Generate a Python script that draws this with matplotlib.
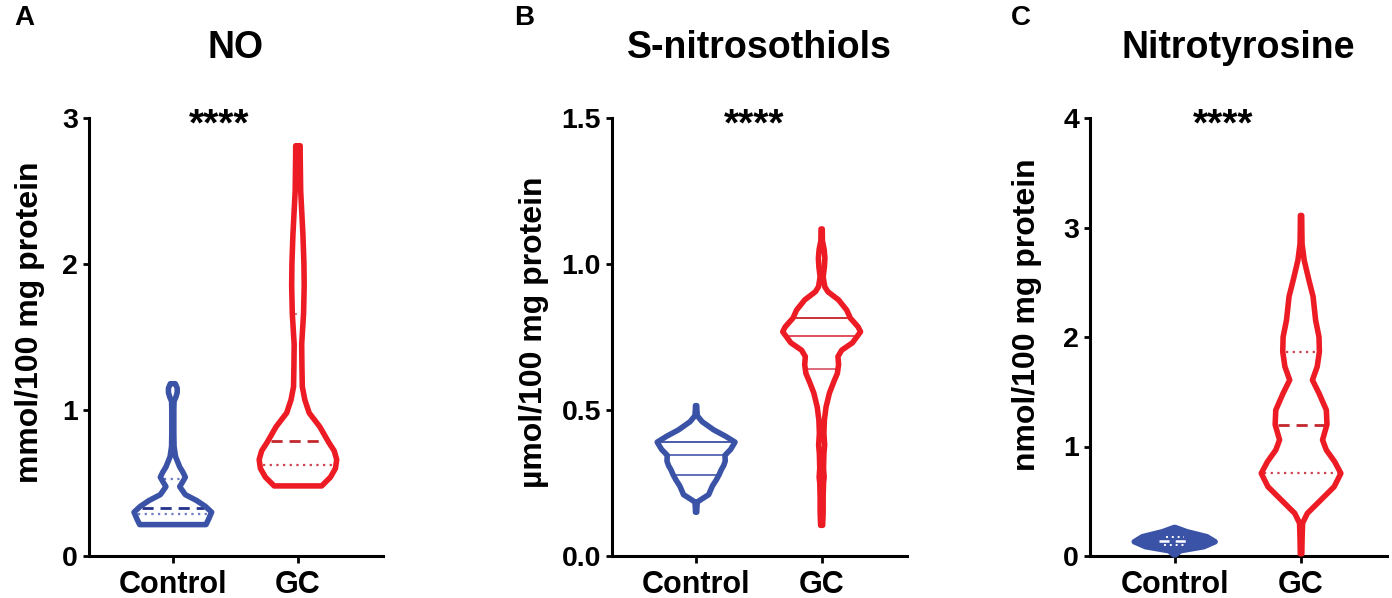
import numpy as np
import matplotlib
matplotlib.use("Agg")
import matplotlib.pyplot as plt
from matplotlib.patches import Polygon

plt.rcParams['font.family'] = ['Liberation Sans', 'DejaVu Sans']
plt.rcParams['font.weight'] = 'bold'

groups = ["Control", "GC"]
blue = "#3b53a6"
red = "#ed1c24"

# violin outlines: y values and half widths (x units)
# panel A - NO
no_ctrl_y = [0.215, 0.25, 0.30, 0.34, 0.38, 0.42, 0.475, 0.51, 0.54, 0.575, 0.61,
             0.68, 0.75, 0.85, 1.0, 1.06, 1.09, 1.12, 1.15, 1.18]
no_ctrl_hw = [0.265, 0.285, 0.31, 0.26, 0.19, 0.10, 0.055, 0.08, 0.10, 0.08, 0.055,
              0.022, 0.01, 0.008, 0.008, 0.01, 0.025, 0.035, 0.035, 0.02]
no_gc_y = [0.48, 0.54, 0.60, 0.66, 0.72, 0.78, 0.885, 0.98, 1.07, 1.16, 1.3, 1.45,
           1.66, 1.85, 2.0, 2.2, 2.5, 2.75, 2.81]
no_gc_hw = [0.19, 0.26, 0.30, 0.31, 0.29, 0.245, 0.175, 0.09, 0.055, 0.035, 0.032, 0.03,
            0.045, 0.05, 0.048, 0.04, 0.022, 0.018, 0.018]
no_ctrl_q = [0.285, 0.33, 0.53]
no_gc_q = [0.62, 0.785, 1.66]

# panel B - S-nitrosothiols
sno_ctrl_y = [0.15, 0.165, 0.185, 0.195, 0.21, 0.225, 0.24, 0.26, 0.28, 0.295, 0.31,
              0.325, 0.345, 0.365, 0.39, 0.41, 0.432, 0.46, 0.48, 0.50, 0.515]
sno_ctrl_hw = [0.005, 0.006, 0.01, 0.045, 0.1, 0.115, 0.13, 0.16, 0.185, 0.2, 0.22,
               0.232, 0.23, 0.275, 0.31, 0.235, 0.14, 0.048, 0.01, 0.006, 0.005]
sno_gc_y = [0.105, 0.15, 0.2, 0.25, 0.27, 0.3, 0.35, 0.38, 0.42, 0.466, 0.51, 0.558,
            0.60, 0.625, 0.64, 0.655, 0.683, 0.705, 0.73, 0.768, 0.785, 0.815, 0.842,
            0.877, 0.905, 0.922, 0.956, 0.99, 1.02, 1.05, 1.08, 1.12]
sno_gc_hw = [0.008, 0.012, 0.012, 0.015, 0.02, 0.015, 0.018, 0.024, 0.018, 0.022, 0.035,
             0.062, 0.1, 0.125, 0.13, 0.135, 0.13, 0.16, 0.245, 0.31, 0.29, 0.228, 0.2,
             0.135, 0.05, 0.025, 0.012, 0.022, 0.026, 0.02, 0.006, 0.005]
sno_ctrl_q = [0.277, 0.346, 0.39]
sno_gc_q = [0.64, 0.753, 0.815]

# panel C - Nitrotyrosine
nt_ctrl_y = [0.01, 0.048, 0.085, 0.13, 0.176, 0.222, 0.26]
nt_ctrl_hw = [0.005, 0.045, 0.23, 0.32, 0.255, 0.095, 0.005]
nt_gc_y = [0.02, 0.15, 0.30, 0.39, 0.51, 0.633, 0.755, 0.861, 0.968, 1.06, 1.2, 1.333,
           1.486, 1.607, 1.73, 1.866, 2.0, 2.155, 2.37, 2.52, 2.70, 2.85, 3.0, 3.11]
nt_gc_hw = [0.006, 0.008, 0.012, 0.05, 0.155, 0.262, 0.315, 0.266, 0.2, 0.17, 0.205, 0.2,
            0.142, 0.09, 0.128, 0.145, 0.142, 0.115, 0.095, 0.062, 0.025, 0.008, 0.006, 0.005]
nt_ctrl_q = [0.10, 0.14, 0.17]
nt_gc_q = [0.755, 1.2, 1.866]

dotted = (0, (1, 2))
dashed = (0, (4, 2.5))


def draw_violin(ax, pos, ys, hws, color, quarts, styles, fill=False):
    ys = np.asarray(ys)
    hws = np.asarray(hws)
    xs = np.concatenate([pos - hws, (pos + hws)[::-1]])
    yy = np.concatenate([ys, ys[::-1]])
    pts = np.column_stack([xs, yy])
    face = color if fill else "white"
    ax.add_patch(Polygon(pts, closed=True, facecolor=face, edgecolor="none",
                         zorder=2, clip_on=False))
    for val, (ls, lc, lw, frac) in zip(quarts, styles):
        w = (np.interp(val, ys, hws) - 0.025) * frac
        ax.plot([pos - w, pos + w], [val, val], ls=ls, color=lc, lw=lw, zorder=3,
                clip_on=False)
    ax.add_patch(Polygon(pts, closed=True, facecolor="none", edgecolor=color, lw=4.0,
                         joinstyle="round", zorder=4, clip_on=False))


W, H = 1392, 598
fig = plt.figure(figsize=(W / 100, H / 100), dpi=100)

panels = [
    dict(left=89, width=294, ylim=3, yticks=[0, 1, 2, 3], fmt="{:.0f}", title="NO",
         letter="A", letter_x=14, ylabel="mmol/100 mg protein", ylab_x=30, ylab_y=322,
         star_x=0.37),
    dict(left=612, width=295, ylim=1.5, yticks=[0, 0.5, 1.0, 1.5], fmt="{:.1f}",
         title="S-nitrosothiols", letter="B", letter_x=514,
         ylabel="µmol/100 mg protein", ylab_x=534, ylab_y=332, star_x=0.46),
    dict(left=1090, width=297, ylim=4, yticks=[0, 1, 2, 3, 4], fmt="{:.0f}",
         title="Nitrotyrosine", letter="C", letter_x=1011,
         ylabel="nmol/100 mg protein", ylab_x=1027, ylab_y=315, star_x=0.38),
]

axes = []
for p in panels:
    ax = fig.add_axes([p["left"] / W, 42 / H, p["width"] / W, 438 / H])
    ax.set_xlim(-0.67, 1.68)
    ax.set_ylim(0, p["ylim"])
    for s in ["top", "right"]:
        ax.spines[s].set_visible(False)
    for s in ["left", "bottom"]:
        ax.spines[s].set_linewidth(2.2)
    ax.set_yticks(p["yticks"])
    ax.set_yticklabels([p["fmt"].format(v) for v in p["yticks"]], fontsize=20.5,
                       fontweight="bold")
    ax.set_xticks([0, 1])
    ax.set_xticklabels(groups, fontsize=22, fontweight="bold")
    ax.tick_params(axis="y", width=2.0, length=4, pad=4)
    ax.tick_params(axis="x", width=2.0, length=5, pad=5)
    fig.text((p["left"] + p["width"] / 2) / W, (H - 58) / H, p["title"], fontsize=27,
             fontweight="bold", ha="center", va="baseline")
    fig.text(p["letter_x"] / W, (H - 25) / H, p["letter"], fontsize=20,
             fontweight="bold", ha="left", va="baseline")
    fig.text(p["ylab_x"] / W, (H - p["ylab_y"]) / H, p["ylabel"], fontsize=23,
             fontweight="bold", rotation=90, ha="center", va="center")
    ax.text(p["star_x"], 0.96, "****", transform=ax.get_xaxis_transform(),
            fontsize=28, fontweight="bold", ha="center", va="baseline")
    axes.append(ax)

ax_a, ax_b, ax_c = axes

draw_violin(ax_a, 0, no_ctrl_y, no_ctrl_hw, blue, no_ctrl_q,
            [(dotted, "#6c7cc6", 1.6, 1.0), (dashed, "#25338c", 2.0, 1.0),
             (dotted, "#6c7cc6", 1.6, 1.0)])
draw_violin(ax_a, 1, no_gc_y, no_gc_hw, red, no_gc_q,
            [(dotted, "#d0404e", 1.6, 1.0), (dashed, "#c1272d", 2.0, 1.0),
             (dotted, "#e0707c", 1.4, 1.0)])

draw_violin(ax_b, 0, sno_ctrl_y, sno_ctrl_hw, blue, sno_ctrl_q,
            [("-", "#5566b3", 1.3, 1.0), ("-", "#5566b3", 1.3, 1.0),
             ("-", "#3b4ea3", 1.3, 1.0)])
draw_violin(ax_b, 1, sno_gc_y, sno_gc_hw, red, sno_gc_q,
            [("-", "#d86070", 1.3, 1.0), ("-", "#e04050", 1.3, 1.0),
             ("-", "#c8202a", 1.3, 1.0)])

draw_violin(ax_c, 0, nt_ctrl_y, nt_ctrl_hw, blue, nt_ctrl_q,
            [(dotted, "white", 1.4, 0.35), (dashed, "white", 1.8, 0.45),
             (dotted, "white", 1.4, 0.3)], fill=True)
draw_violin(ax_c, 1, nt_gc_y, nt_gc_hw, red, nt_gc_q,
            [(dotted, "#d0404e", 1.6, 1.0), (dashed, "#c1272d", 2.0, 1.0),
             (dotted, "#d0404e", 1.6, 1.0)])

fig.savefig("out.png", dpi=100)
